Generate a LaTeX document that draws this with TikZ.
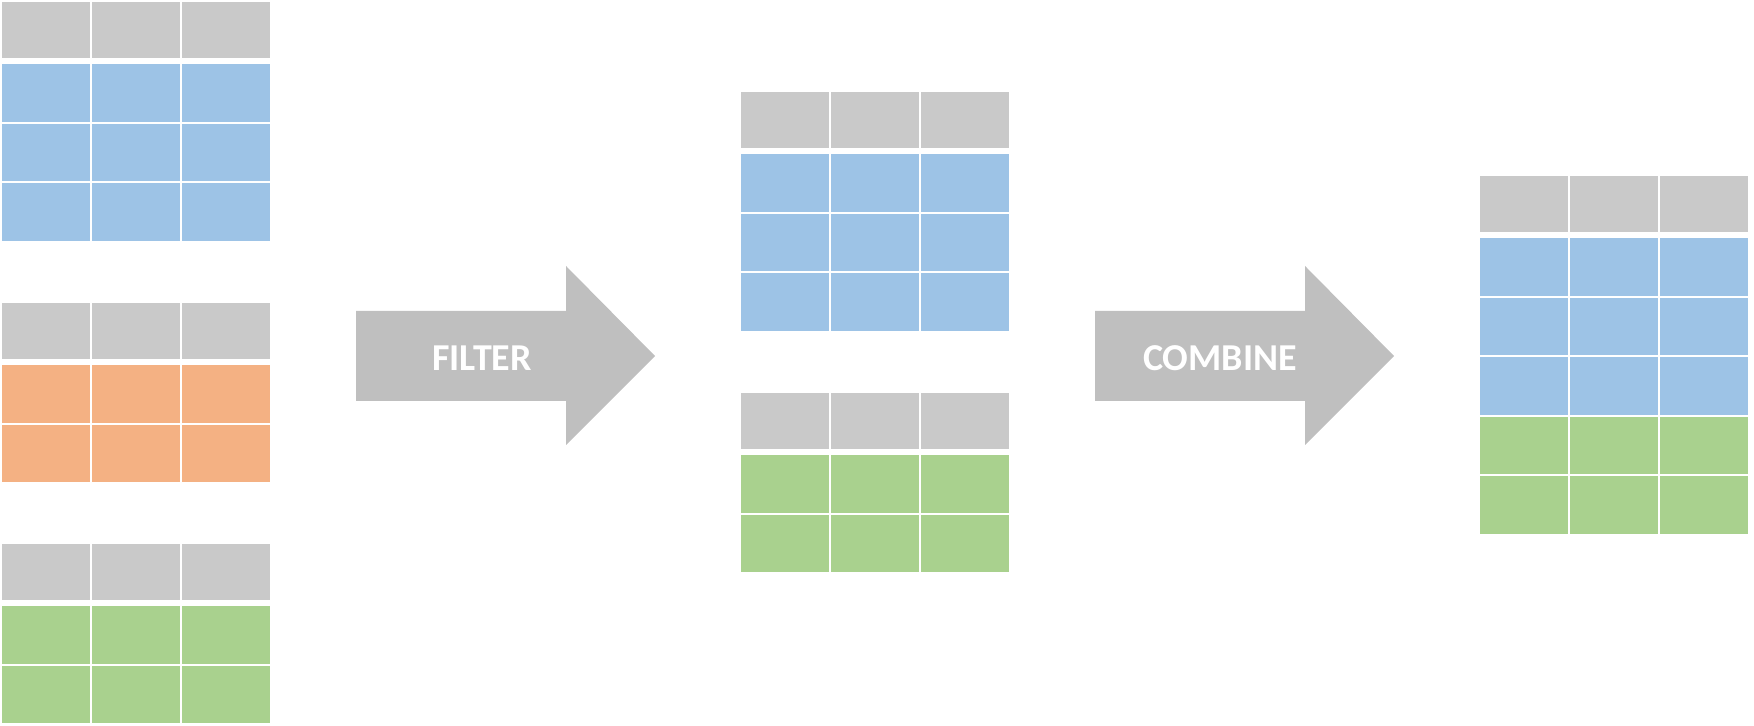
\documentclass[tikz,border=0pt]{standalone}
\usepackage{fontspec}
\setsansfont{Carlito}
\usetikzlibrary{positioning}

\definecolor{headgray}{HTML}{C9C9C9}
\definecolor{rowblue}{HTML}{9DC3E6}
\definecolor{roworange}{HTML}{F4B183}
\definecolor{rowgreen}{HTML}{A9D18E}
\definecolor{arrowgray}{HTML}{BFBFBF}

\tikzset{
  cell/.style={rectangle, anchor=north west, inner sep=0pt, minimum width=44pt},
  hcell/.style={cell, fill=headgray, minimum height=28pt},
  dcell/.style={cell, minimum height=28.75pt},
  label/.style={text=white, font=\sffamily\bfseries\fontsize{19}{19}\selectfont}
}

% one table: name, left x, top y, row colour, number of rows
\newcommand{\datatable}[5]{%
  \foreach \c in {0,1,2} {
    \node[hcell] (#1-h\c) at (#2+\c*90, #3) {};
    \foreach \r in {1,...,#5}
      \node[dcell, fill=#4] (#1-\r\c) at (#2+\c*90, #3+62+\r*59.5-59.5) {};
  }}

\begin{document}
\begin{tikzpicture}[x=0.5pt, y=-0.5pt]
    \useasboundingbox (0,0) rectangle (1754,726);

    % input tables
    \datatable{inblue}{2}{2}{rowblue}{3}
    \datatable{inorange}{2}{303}{roworange}{2}
    \datatable{ingreen}{2}{544}{rowgreen}{2}

    % filtered tables
    \datatable{midblue}{741}{92}{rowblue}{3}
    \datatable{midgreen}{741}{393}{rowgreen}{2}

    % combined table
    \datatable{out}{1480}{176}{rowblue}{3}
    \foreach \c in {0,1,2} {
      \node[dcell, fill=rowgreen] (out-4\c) at (1480+\c*90, 416.5) {};
      \node[dcell, fill=rowgreen] (out-5\c) at (1480+\c*90, 476) {};
    }

    % block arrows
    \fill[arrowgray] (356,311) -- (566,311) -- (566,266) -- (655,356)
        -- (566,445) -- (566,401) -- (356,401) -- cycle;
    \node[label] (filter) at (482,358) {FILTER};

    \fill[arrowgray] (1095,311) -- (1305,311) -- (1305,266) -- (1394,356)
        -- (1305,445) -- (1305,401) -- (1095,401) -- cycle;
    \node[label] (combine) at (1220,358) {COMBINE};
\end{tikzpicture}
\end{document}
